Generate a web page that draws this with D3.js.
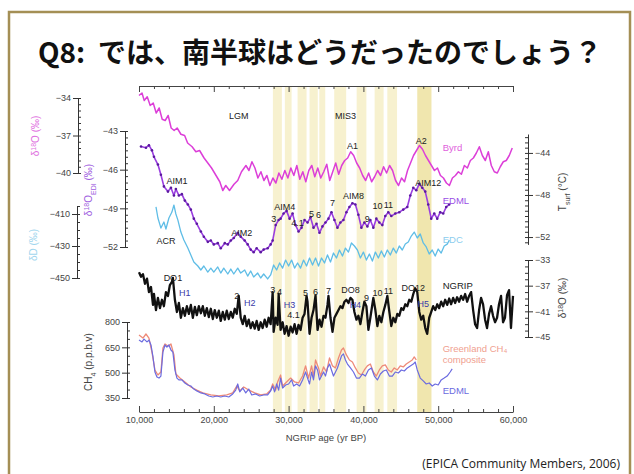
<!DOCTYPE html>
<html>
<head>
<meta charset="utf-8">
<script src="https://cdn.jsdelivr.net/npm/d3@7"></script>
<style>
body { margin: 0; background: #fff; }
svg text { font-family: "Liberation Sans", Arial, sans-serif; }
</style>
</head>
<body>
<svg width="634" height="474"></svg>
<script>
// ---- data: [age yr BP, value] ----
const byrdD18O = [[10000,-33.8],[10400,-33.6],[10700,-34.2],[11100,-33.9],[11500,-34.6],[11900,-34.4],[12300,-35.2],[12700,-34.8],[13100,-35.7],[13500,-35.8],[13900,-35.4],[14300,-36.4],[14700,-36.6],[15100,-36.4],[15600,-36.9],[16100,-37.0],[16500,-37.6],[17100,-37.9],[17600,-38.3],[18100,-38.2],[18700,-38.8],[19200,-39.2],[19700,-39.6],[20300,-40.2],[20800,-40.7],[21200,-41.4],[21600,-41.0],[22100,-41.4],[22700,-40.9],[23200,-40.6],[23700,-39.9],[24300,-39.4],[24700,-39.8],[25100,-39.1],[25500,-39.6],[25900,-40.4],[26300,-39.9],[26700,-40.6],[27100,-40.2],[27500,-41.0],[27900,-40.4],[28300,-40.8],[28700,-40.0],[29100,-40.5],[29500,-39.8],[29900,-40.4],[30300,-39.6],[30700,-40.2],[31100,-39.4],[31500,-40.5],[31900,-39.9],[32300,-40.7],[32700,-39.8],[33100,-39.4],[33500,-40.3],[33900,-39.6],[34300,-40.4],[34700,-39.9],[35100,-39.3],[35500,-40.6],[35900,-39.9],[36300,-39.2],[36700,-40.1],[37100,-39.4],[37500,-39.0],[37900,-38.8],[38300,-38.3],[38700,-38.6],[39100,-39.2],[39500,-39.6],[39900,-40.2],[40300,-40.6],[40700,-40.0],[41100,-40.7],[41500,-40.3],[41900,-39.8],[42300,-40.2],[42700,-39.5],[43100,-40.0],[43500,-39.4],[43900,-39.8],[44300,-40.6],[44700,-41.0],[45100,-40.4],[45500,-40.7],[45900,-39.8],[46300,-39.2],[46700,-38.6],[47100,-38.2],[47500,-37.8],[47900,-38.1],[48300,-38.6],[48700,-39.0],[49100,-39.4],[49500,-39.8],[49900,-39.6],[50300,-40.2],[50700,-40.4],[51100,-40.8],[51500,-41.0],[51900,-40.4],[52300,-40.2],[52700,-39.9],[53100,-40.1],[53500,-39.4],[53900,-39.6],[54300,-39.0],[54700,-38.8],[55100,-38.4],[55500,-37.9],[55900,-38.6],[56300,-39.0],[56700,-38.3],[57100,-39.4],[57500,-39.9],[57900,-40.0],[58300,-39.5],[58700,-39.1],[59100,-39.0],[59500,-38.6],[59900,-38.0]]

const edmlD18O = [[10270,-44.2],[10930,-44.3],[11330,-44.1],[11730,-44.5],[12000,-45.0],[12530,-45.6],[12930,-46.4],[13330,-47.3],[13870,-47.7],[14270,-47.4],[14670,-48.0],[14930,-47.5],[15330,-48.0],[15730,-47.9],[16130,-48.4],[16530,-48.7],[16930,-49.1],[17330,-49.8],[17730,-50.2],[18270,-50.8],[18670,-51.2],[19200,-51.6],[19600,-51.5],[20000,-51.8],[20530,-51.7],[20930,-52.1],[21470,-51.7],[21870,-51.8],[22270,-51.5],[22670,-51.3],[23200,-50.9],[23600,-51.2],[24130,-51.5],[24530,-51.8],[24930,-52.2],[25330,-52.4],[25730,-52.1],[26270,-52.4],[26670,-52.2],[27200,-52.1],[27600,-51.8],[27870,-51.5],[28270,-50.3],[28670,-49.9],[28930,-49.8],[29330,-49.4],[29730,-49.2],[30130,-49.8],[30530,-49.4],[30930,-50.3],[31330,-50.8],[31730,-50.5],[32130,-49.9],[32530,-50.1],[32930,-49.7],[33330,-50.5],[33730,-50.2],[34130,-50.9],[34530,-50.4],[34930,-50.1],[35330,-49.8],[35730,-49.3],[36130,-49.9],[36530,-50.5],[36930,-50.1],[37330,-49.9],[37730,-49.3],[38130,-48.9],[38530,-48.6],[38930,-48.7],[39330,-49.5],[39730,-50.5],[40130,-50.1],[40530,-50.4],[40930,-49.9],[41330,-50.5],[41730,-49.8],[42130,-50.1],[42530,-50.3],[42930,-49.6],[43330,-49.3],[43730,-49.6],[44270,-49.4],[44800,-49.3],[45330,-49.1],[45870,-48.9],[46270,-48.0],[46670,-47.4],[47070,-47.6],[47470,-47.1],[47870,-47.4],[48270,-47.7],[48670,-48.7],[49070,-49.8],[49470,-49.4],[49870,-49.8],[50270,-49.3],[50670,-49.4],[51070,-48.9],[51470,-48.7]]

const edcDD = [[12270,-405.6],[12530,-412.5],[12930,-418.8],[13330,-415.0],[13600,-419.4],[14000,-412.5],[14400,-408.8],[14670,-404.4],[14930,-410.0],[15200,-413.8],[15600,-421.3],[16000,-426.3],[16530,-431.3],[16930,-435.6],[17330,-440.0],[17870,-442.5],[18270,-445.0],[18670,-442.5],[19200,-446.3],[19600,-443.8],[20000,-446.3],[20530,-443.1],[20930,-446.9],[21330,-443.8],[21870,-447.5],[22270,-444.4],[22670,-447.5],[23200,-443.8],[23600,-446.9],[24130,-445.0],[24530,-448.8],[24930,-445.6],[25330,-449.4],[25870,-446.9],[26270,-450.0],[26670,-447.5],[27200,-450.6],[27600,-448.1],[28000,-441.9],[28400,-445.0],[28800,-440.6],[29200,-443.8],[29600,-438.8],[30000,-442.5],[30400,-438.8],[30800,-443.8],[31200,-440.6],[31600,-443.8],[32000,-438.8],[32400,-442.5],[32800,-437.5],[33200,-441.9],[33600,-437.5],[34000,-442.5],[34400,-437.5],[34800,-440.6],[35200,-435.6],[35600,-440.0],[36000,-434.4],[36400,-437.5],[36800,-432.5],[37200,-436.3],[37600,-431.3],[38000,-433.8],[38400,-428.1],[38800,-430.0],[39200,-432.5],[39600,-437.5],[40000,-433.8],[40400,-438.8],[40800,-435.0],[41200,-439.4],[41600,-433.8],[42000,-437.5],[42400,-433.1],[42800,-436.9],[43200,-432.5],[43600,-435.6],[44000,-431.3],[44400,-434.4],[44800,-430.0],[45200,-432.5],[45600,-428.8],[46000,-427.5],[46400,-423.8],[46800,-421.3],[47200,-425.0],[47600,-422.5],[48000,-428.1],[48400,-430.6],[48800,-435.0],[49200,-432.5],[49600,-436.3],[50000,-431.9],[50400,-434.4],[50800,-430.0],[51200,-428.8],[51500,-426.3]]

const ngripD18O = [[10000,-34.9],[10270,-35.6],[10530,-35.2],[10800,-36.7],[11070,-35.9],[11330,-38.0],[11600,-37.2],[11870,-40.0],[12000,-38.3],[12270,-40.8],[12530,-38.9],[12800,-40.5],[13070,-39.2],[13330,-40.2],[13600,-38.0],[13870,-38.6],[14130,-36.9],[14400,-36.4],[14530,-35.8],[14800,-39.2],[15070,-41.1],[15330,-39.7],[15600,-42.0],[15870,-40.5],[16130,-41.7],[16400,-40.2],[16670,-41.4],[16930,-40.0],[17200,-42.0],[17470,-40.3],[17730,-41.6],[18000,-40.2],[18270,-41.3],[18530,-40.2],[18800,-41.7],[19070,-40.5],[19330,-41.9],[19600,-40.6],[19870,-42.2],[20130,-40.8],[20400,-42.0],[20670,-40.9],[20930,-42.5],[21200,-41.1],[21470,-42.3],[21730,-40.9],[22000,-42.2],[22270,-41.1],[22530,-42.0],[22800,-40.6],[23070,-41.4],[23330,-38.6],[23600,-42.0],[23870,-43.0],[24130,-41.7],[24400,-43.3],[24670,-42.3],[24930,-43.6],[25200,-42.7],[25470,-43.7],[25730,-42.5],[26000,-43.9],[26270,-42.7],[26530,-43.6],[26800,-42.3],[27070,-43.4],[27330,-42.0],[27600,-43.0],[27870,-38.0],[28000,-44.2],[28270,-42.0],[28530,-43.1],[28670,-38.3],[28930,-43.9],[29200,-42.7],[29470,-44.5],[29730,-43.3],[30000,-44.8],[30270,-43.4],[30530,-44.3],[30800,-43.0],[31070,-44.5],[31330,-43.1],[31600,-43.9],[31870,-42.0],[32130,-41.4],[32400,-38.6],[32530,-39.5],[32800,-44.5],[33070,-42.0],[33330,-40.8],[33600,-38.5],[33870,-43.9],[34130,-42.3],[34400,-43.4],[34670,-41.7],[34930,-42.0],[35200,-40.0],[35330,-38.6],[35600,-42.0],[35870,-44.2],[36130,-42.0],[36400,-41.4],[36670,-40.8],[36930,-40.2],[37200,-40.5],[37470,-39.5],[37730,-39.2],[38000,-39.7],[38270,-38.9],[38530,-39.2],[38800,-41.1],[39070,-42.3],[39330,-41.7],[39600,-43.0],[39870,-41.1],[40130,-39.5],[40400,-40.2],[40670,-43.9],[40930,-42.0],[41200,-39.9],[41330,-38.9],[41600,-40.8],[41870,-43.3],[42130,-41.7],[42400,-42.7],[42670,-41.1],[42930,-40.0],[43200,-38.6],[43470,-41.1],[43730,-43.3],[44000,-42.0],[44270,-42.7],[44530,-41.4],[44800,-41.7],[45070,-40.5],[45330,-40.8],[45600,-39.9],[45870,-40.2],[46130,-39.2],[46400,-39.5],[46670,-38.3],[46930,-37.4],[47200,-38.0],[47470,-41.1],[47730,-42.3],[48000,-41.7],[48270,-43.6],[48530,-44.5],[48800,-42.0],[49070,-41.1],[49330,-40.2],[49600,-40.8],[49870,-39.9],[50130,-40.5],[50400,-39.5],[50670,-40.2],[50930,-39.2],[51200,-40.0],[51470,-39.0],[51730,-39.9],[52000,-38.9],[52270,-39.7],[52530,-38.8],[52800,-39.5],[53070,-38.6],[53330,-39.2],[53600,-38.3],[53870,-39.5],[54130,-38.6],[54400,-38.0],[54670,-40.8],[54930,-43.0],[55200,-43.6],[55470,-40.8],[55730,-38.9],[56000,-39.9],[56270,-42.3],[56530,-43.6],[56800,-41.4],[57070,-40.2],[57330,-41.7],[57600,-42.7],[57870,-42.0],[58130,-39.9],[58400,-38.6],[58670,-42.7],[58930,-42.0],[59200,-38.5],[59470,-37.7],[59730,-43.6],[60000,-38.6]]

const ch4Edml = [[10000,693],[10400,682],[10670,699],[11070,682],[11330,693],[11600,664],[11870,593],[12130,504],[12400,474],[12670,468],[12930,480],[13200,622],[13470,664],[13730,652],[14000,664],[14270,634],[14530,622],[14800,516],[15070,468],[15330,457],[15730,457],[16130,439],[16530,427],[16930,421],[17330,403],[17730,392],[18270,380],[18800,374],[19330,362],[19870,356],[20400,362],[20930,356],[21470,362],[22000,356],[22530,374],[22930,397],[23200,433],[23470,386],[23870,409],[24270,380],[24670,403],[25070,368],[25600,374],[26130,362],[26670,368],[27200,368],[27600,392],[27870,421],[28130,386],[28400,433],[28670,397],[28930,468],[29200,409],[29600,427],[30000,433],[30400,457],[30670,421],[31070,433],[31470,421],[31870,457],[32270,504],[32530,468],[32800,433],[33070,504],[33330,457],[33600,540],[33870,516],[34130,457],[34400,480],[34670,504],[34930,480],[35200,528],[35470,551],[35730,516],[36000,480],[36270,504],[36530,528],[36800,563],[37070,599],[37330,611],[37600,575],[37870,551],[38270,528],[38670,504],[39070,468],[39470,468],[39870,492],[40270,480],[40670,516],[41070,528],[41470,480],[41870,457],[42270,492],[42670,510],[43070,516],[43470,480],[43870,480],[44270,504],[44670,498],[45070,516],[45470,510],[45870,528],[46270,540],[46670,551],[46930,563],[47200,516],[47600,468],[48000,451],[48400,433],[48800,439],[49200,421],[49600,433],[50000,427],[50400,457],[50800,468],[51200,480],[51600,504],[51870,522]]

const ch4Greenland = [[10000,723],[10530,705],[10930,729],[11330,705],[11730,622],[12130,516],[12530,486],[12930,504],[13200,646],[13470,670],[13870,658],[14270,670],[14670,605],[14930,492],[15470,468],[16130,445],[16930,415],[17730,397],[18530,380],[19600,368],[20670,362],[21730,368],[22530,380],[23070,421],[23470,392],[24000,415],[24670,397],[25470,380],[26270,368],[27070,374],[27600,397],[27870,433],[28270,397],[28530,445],[28930,486],[29200,421],[29730,445],[30270,468],[30800,445],[31330,439],[31870,480],[32270,540],[32670,468],[33070,540],[33330,480],[33600,575],[34000,528],[34270,480],[34670,534],[35070,504],[35470,587],[35870,540],[36270,528],[36670,587],[37070,634],[37330,646],[37730,605],[38130,575],[38530,563],[38930,528],[39330,498],[39730,486],[40130,516],[40530,540],[40930,551],[41330,504],[41730,480],[42130,516],[42530,540],[42930,546],[43330,516],[43730,504],[44130,528],[44530,516],[44930,540],[45330,534],[45730,551],[46130,563],[46530,575],[46800,593],[47070,575]]

// interstadial bands [from, to] yr BP
const bands = [[27900,29100],[29500,30400],[31200,32400],[32800,33900],[34100,34900],[36100,37700],[39100,40400],[41500,42700],[43200,44500],[47200,49100]]

// event labels: [text, age, value, panel, colour]
const annotations = [
  ["LGM",23330,-35.4,"byrd","#222"],["MIS3",37600,-35.4,"byrd","#222"],
  ["A1",38530,-37.8,"byrd","#222"],["A2",47730,-37.4,"byrd","#222"],
  ["AIM1",15070,-46.9,"edml","#222"],["AIM2",23730,-50.9,"edml","#222"],
  ["AIM4",29470,-48.9,"edml","#222"],["3",28000,-49.8,"edml","#222"],
  ["4.1",31200,-50.1,"edml","#222"],["5",33070,-49.4,"edml","#222"],
  ["6",34000,-49.5,"edml","#222"],["7",35870,-48.6,"edml","#222"],
  ["AIM8",38670,-48.0,"edml","#222"],["9",40530,-49.8,"edml","#222"],
  ["10",41870,-48.8,"edml","#222"],["11",43330,-48.7,"edml","#222"],
  ["AIM12",48670,-47.0,"edml","#222"],["ACR",13600,-426.9,"edc","#222"],
  ["DO1",14530,-35.8,"ngrip","#222"],["H1",16130,-38.1,"ngrip","#3a3aa8"],
  ["2",23070,-38.6,"ngrip","#222"],["H2",24800,-39.7,"ngrip","#3a3aa8"],
  ["3",27870,-37.7,"ngrip","#222"],["4",28800,-38.0,"ngrip","#222"],
  ["H3",30130,-40.0,"ngrip","#3a3aa8"],["4.1",30670,-41.6,"ngrip","#222"],
  ["5",32270,-38.1,"ngrip","#222"],["6",33600,-38.0,"ngrip","#222"],
  ["7",35330,-37.8,"ngrip","#222"],["DO8",38270,-37.7,"ngrip","#222"],
  ["H4",38930,-40.0,"ngrip","#3a3aa8"],["9",40400,-38.9,"ngrip","#222"],
  ["10",41870,-38.1,"ngrip","#222"],["11",43330,-37.8,"ngrip","#222"],
  ["DO12",46670,-37.4,"ngrip","#222"],["H5",48000,-39.9,"ngrip","#3a3aa8"]
]

// series names at the right-hand end
const seriesLabels = [
  ["Byrd",50600,-38.0,"byrd","#e060dc"],["EDML",50600,-48.4,"edml","#9a4ee6"],
  ["EDC",50600,-426.3,"edc","#8ccdee"],["NGRIP",50600,-37.0,"ngrip","#222"],
  ["Greenland CH₄",50600,640,"ch4","#f0a090"],["composite",50600,575,"ch4","#f0a090"],
  ["EDML",50600,392,"ch4","#6b6be0"]
]

const svg = d3.select("svg")

// slide frame and heading
svg.append("rect").attr("x", 9).attr("y", 12).attr("width", 621).attr("height", 470)
  .attr("fill", "none").attr("stroke", "#a48f55").attr("stroke-width", 2.5)
svg.append("text").attr("x", 38).attr("y", 63)
  .style("font-family", "'Noto Sans CJK JP', sans-serif").style("font-weight", "bold")
  .style("font-size", "28px").attr("fill", "#111")
  .text("Q8:\u00a0\u00a0では、南半球はどうだったのでしょう？")

// scales
const x = d3.scaleLinear().domain([10000, 60000]).range([139, 513])
const y = {
  byrd: d3.scaleLinear().domain([-34, -40]).range([98, 173]),
  edml: d3.scaleLinear().domain([-43, -52]).range([131, 247]),
  edc: d3.scaleLinear().domain([-405, -450]).range([206, 278]),
  tsurf: d3.scaleLinear().domain([-42.2, -52.7]).range([134, 244.4]),
  ngrip: d3.scaleLinear().domain([-33, -45]).range([260, 337]),
  ch4: d3.scaleLinear().domain([800, 350]).range([322, 398])
}
const axisTopY = 86, axisBottomY = 412

// pale yellow interstadial bands
svg.selectAll("rect.band").data(bands).enter().append("rect")
  .attr("class", "band")
  .attr("x", d => x(d[0])).attr("width", d => x(d[1]) - x(d[0]))
  .attr("y", axisTopY).attr("height", axisBottomY - axisTopY)
  .attr("fill", d => d[0] === 47200 ? "#f0e6ae" : "#f7f1cf")

// time axes (ticks point inward on both)
const fmtAge = d3.format(",")
const majorsX = [10000, 20000, 30000, 40000, 50000, 60000]
const minorsX = d3.range(12000, 60000, 2000).filter(d => d % 10000)
function timeAxis(yPos, isBottom) {
  const mk = isBottom ? d3.axisBottom : d3.axisTop
  const g = svg.append("g").attr("transform", `translate(0,${yPos})`)
  g.call(mk(x).tickValues(majorsX).tickSizeInner(-6).tickSizeOuter(0)
    .tickFormat(isBottom ? fmtAge : "").tickPadding(5))
  g.append("g").call(mk(x).tickValues(minorsX).tickSize(-3).tickFormat(""))
    .select(".domain").remove()
  g.selectAll("line,path").attr("stroke", "#444")
  g.selectAll("text").attr("fill", "#444").style("font-size", "9px")
}
timeAxis(axisBottomY, true)
timeAxis(axisTopY, false)
svg.append("text").attr("x", x(35000)).attr("y", 441).attr("text-anchor", "middle")
  .attr("fill", "#444").style("font-size", "9.5px").text("NGRIP age (yr BP)")

// value axes
function valueAxis(scale, xPos, side, majors, minorStep) {
  const g = svg.append("g").attr("transform", `translate(${xPos},0)`)
  const out = side === "left" ? d3.axisLeft : d3.axisRight
  const inn = side === "left" ? d3.axisRight : d3.axisLeft
  g.call(out(scale).tickValues(majors).tickFormat(d3.format("d"))
    .tickSizeInner(5).tickSizeOuter(0).tickPadding(2))
  const dom = scale.domain()
  const lo = Math.min(dom[0], dom[1]), hi = Math.max(dom[0], dom[1])
  const minors = d3.range(Math.ceil(lo / minorStep) * minorStep, hi + 1e-9, minorStep)
  g.append("g").call(inn(scale).tickValues(minors).tickSize(3).tickFormat(""))
    .select(".domain").remove()
  g.selectAll("line,path").attr("stroke", "#333")
  g.selectAll("text").attr("fill", "#444").style("font-size", "9px")
}
valueAxis(y.byrd, 78, "left", [-34, -37, -40], 0.5)
valueAxis(y.edml, 125, "left", [-43, -46, -49, -52], 0.5)
valueAxis(y.edc, 77, "left", [-410, -430, -450], 5)
valueAxis(y.ch4, 127, "left", [800, 650, 500, 350], 50)
valueAxis(y.tsurf, 528, "right", [-44, -48, -52], 0.5)
valueAxis(y.ngrip, 528, "right", [-33, -37, -41, -45], 1)

// rotated axis titles: parts are [text, shift] where shift is "sup"/"sub"/""
function axisTitle(cx, cy, parts, color, size) {
  const t = svg.append("text").attr("transform", `translate(${cx},${cy}) rotate(-90)`)
    .attr("text-anchor", "middle").attr("fill", color).style("font-size", size + "px")
  parts.forEach(p => {
    const s = t.append("tspan").text(p[0])
    if (p[1] === "sup") s.attr("baseline-shift", "super").style("font-size", (size * 0.7) + "px")
    if (p[1] === "sub") s.attr("baseline-shift", "sub").style("font-size", (size * 0.7) + "px")
  })
}
axisTitle(39, 136, [["δ", ""], ["18", "sup"], ["O (‰)", ""]], "#e070e0", 10)
axisTitle(92, 190, [["δ", ""], ["18", "sup"], ["O", ""], ["EDI", "sub"], [" (‰)", ""]], "#a060e0", 10)
axisTitle(37, 245, [["δD (‰)", ""]], "#9fd6ee", 10)
axisTitle(92, 362, [["CH", ""], ["4", "sub"], [" (p.p.b.v)", ""]], "#444", 10)
axisTitle(566, 192, [["T", ""], ["surf", "sub"], [" (°C)", ""]], "#444", 10)
axisTitle(566, 298, [["δ", ""], ["18", "sup"], ["O (‰)", ""]], "#444", 10)

// records
function trace(data, scale, color, width) {
  svg.append("path").datum(data)
    .attr("d", d3.line().x(d => x(d[0])).y(d => scale(d[1])))
    .attr("fill", "none").attr("stroke", color).attr("stroke-width", width)
    .attr("stroke-linejoin", "round")
}
trace(byrdD18O, y.byrd, "#dc3fd8", 1.5)
trace(edcDD, y.edc, "#5fbde6", 1.3)
trace(edmlD18O, y.edml, "#9a3ee0", 1.6)
svg.selectAll("circle.edml").data(edmlD18O).enter().append("circle")
  .attr("class", "edml").attr("cx", d => x(d[0])).attr("cy", d => y.edml(d[1]))
  .attr("r", 1.3).attr("fill", "#5a1a9e")
trace(ngripD18O, y.ngrip, "#111", 2.3)
trace(ch4Greenland, y.ch4, "#ee8a78", 1.3)
trace(ch4Edml, y.ch4, "#6b6be0", 1.2)

// labels
svg.selectAll("text.ann").data(annotations).enter().append("text")
  .attr("class", "ann").attr("x", d => x(d[1])).attr("y", d => y[d[3]](d[2]))
  .attr("dy", "0.35em").attr("text-anchor", "middle")
  .attr("fill", d => d[4]).style("font-size", "9px").text(d => d[0])
svg.selectAll("text.ser").data(seriesLabels).enter().append("text")
  .attr("class", "ser").attr("x", d => x(d[1])).attr("y", d => y[d[3]](d[2]))
  .attr("dy", "0.35em").attr("fill", d => d[4]).style("font-size", "9.5px").text(d => d[0])

// citation
svg.append("text").attr("x", 620).attr("y", 468).attr("text-anchor", "end")
  .style("font-family", "'Open Sans', sans-serif").style("font-size", "12px")
  .attr("fill", "#222").text("(EPICA Community Members, 2006)")
</script>
</body>
</html>
